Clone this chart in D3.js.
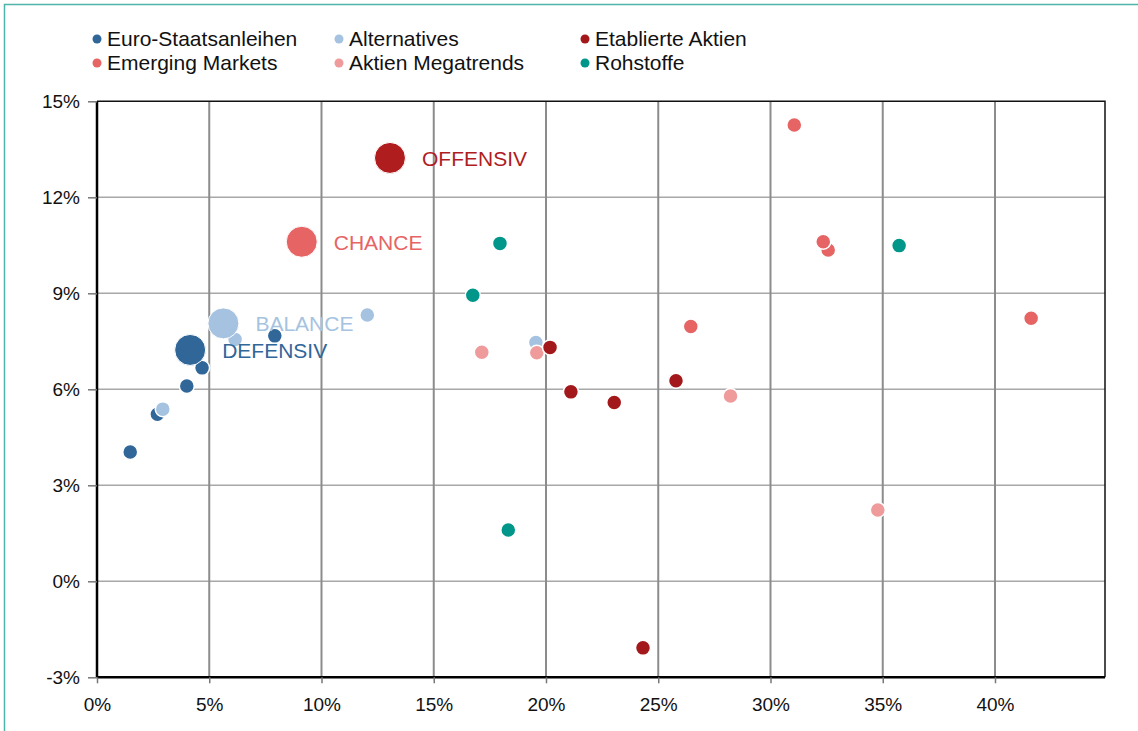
<!DOCTYPE html>
<html>
<head>
<meta charset="utf-8">
<script src="https://cdn.jsdelivr.net/npm/d3@7"></script>
<style>
  html, body { margin: 0; padding: 0; background: #fff; }
  svg { display: block; font-family: "Liberation Sans", Arial, sans-serif; }
</style>
</head>
<body>
<svg id="chart" width="1138" height="731"></svg>
<script>
const width = 1138;
const height = 731;

// series (legend order)
const seriesNames = ["Euro-Staatsanleihen", "Alternatives", "Etablierte Aktien",
                     "Emerging Markets", "Aktien Megatrends", "Rohstoffe"];
const seriesColors = ["#316699", "#a5c3e1", "#a3191b", "#e66464", "#f09b9b", "#00968a"];

// risk (x) / return (y) in percent
const euroRisk   = [1.48, 2.69, 4.00, 4.68, 7.92];
const euroReturn = [4.04, 5.22, 6.10, 6.67, 7.67];
const altRisk    = [2.93, 6.15, 12.04, 19.55];
const altReturn  = [5.38, 7.56, 8.32, 7.46];
const etabRisk   = [20.18, 21.11, 23.04, 25.79, 24.32];
const etabReturn = [7.31, 5.92, 5.59, 6.27, -2.08];
const emRisk     = [31.06, 32.57, 32.35, 26.45, 41.61];
const emReturn   = [14.26, 10.35, 10.61, 7.96, 8.22];
const megaRisk   = [17.14, 19.59, 28.22, 34.78];
const megaReturn = [7.16, 7.14, 5.79, 2.23];
const rohRisk    = [17.95, 16.74, 18.32, 35.73];
const rohReturn  = [10.56, 8.94, 1.60, 10.49];

// portfolios (big bubbles)
const portNames  = ["DEFENSIV", "BALANCE", "CHANCE", "OFFENSIV"];
const portRisk   = [4.15, 5.63, 9.12, 13.05];
const portReturn = [7.23, 8.06, 10.61, 13.23];
const portColors = ["#316699", "#a5c3e1", "#e66464", "#b01d1f"];

const xTicks = [0, 5, 10, 15, 20, 25, 30, 35, 40];
const yTicks = [-3, 0, 3, 6, 9, 12, 15];

const seriesData = [
  [euroRisk, euroReturn], [altRisk, altReturn], [etabRisk, etabReturn],
  [emRisk, emReturn], [megaRisk, megaReturn], [rohRisk, rohReturn]
];
// drawing order so the overlaps look like the original
const drawOrder = [0, 1, 4, 3, 2, 5];

const svg = d3.select("#chart");

const x = d3.scaleLinear().domain([0, 44.9]).range([97, 1105]);
const y = d3.scaleLinear().domain([-3, 15]).range([677.3, 101.3]);

// outer frame (teal, top + left)
svg.append("path")
    .attr("d", "M4.5,731 V4.5 H1138")
    .attr("fill", "none")
    .attr("stroke", "#4fb5aa")
    .attr("stroke-width", 1.5);

// grid
svg.append("g")
  .selectAll("line")
  .data(yTicks.slice(1, -1))
  .join("line")
    .attr("x1", x(0)).attr("x2", x(44.9))
    .attr("y1", d => y(d)).attr("y2", d => y(d))
    .attr("stroke", "#a8a8a8")
    .attr("stroke-width", 1.5);

svg.append("g")
  .selectAll("line")
  .data(xTicks.slice(1))
  .join("line")
    .attr("x1", d => x(d)).attr("x2", d => x(d))
    .attr("y1", y(15)).attr("y2", y(-3))
    .attr("stroke", "#8c8c8c")
    .attr("stroke-width", 2);

// frame top/right
svg.append("path")
    .attr("d", `M${x(0)},${y(15)} H${x(44.9)} V${y(-3)}`)
    .attr("fill", "none")
    .attr("stroke", "#111")
    .attr("stroke-width", 1.5);

// axes
const yAxis = svg.append("g")
    .attr("transform", `translate(${x(0)},0)`)
    .call(d3.axisLeft(y).tickValues(yTicks).tickFormat(d => d + "%").tickSize(9).tickPadding(8));
const xAxis = svg.append("g")
    .attr("transform", `translate(0,${y(-3)})`)
    .call(d3.axisBottom(x).tickValues(xTicks).tickFormat(d => d + "%").tickSize(6).tickPadding(14));

[yAxis, xAxis].forEach(g => {
  g.select(".domain").attr("stroke", "#000").attr("stroke-width", 2.5);
  g.selectAll(".tick line").attr("stroke", "#777").attr("stroke-width", 1.5);
  g.selectAll(".tick text")
    .attr("fill", "#111")
    .style("font-size", "19px")
    .style("font-family", "'Liberation Sans', Arial, sans-serif");
});
yAxis.select(".domain").attr("d", `M0,${y(15)}V${y(-3)}`);
xAxis.select(".domain").attr("d", `M${x(0)},0H${x(44.9)}`);

// points
const pts = svg.append("g");
drawOrder.forEach(i => {
  const [xs, ys] = seriesData[i];
  pts.append("g")
    .selectAll("circle")
    .data(d3.zip(xs, ys))
    .join("circle")
      .attr("cx", d => x(d[0]))
      .attr("cy", d => y(d[1]))
      .attr("r", 7.5)
      .attr("fill", seriesColors[i])
      .attr("stroke", "#fff")
      .attr("stroke-width", 1.5);
});

// portfolios
const ports = d3.range(portNames.length);
svg.append("g")
  .selectAll("circle")
  .data(ports)
  .join("circle")
    .attr("cx", i => x(portRisk[i]))
    .attr("cy", i => y(portReturn[i]))
    .attr("r", 15.5)
    .attr("fill", i => portColors[i])
    .attr("stroke", "#fff")
    .attr("stroke-width", 1);

svg.append("g")
  .selectAll("text")
  .data(ports)
  .join("text")
    .attr("x", i => x(portRisk[i]) + 32)
    .attr("y", i => y(portReturn[i]) + 8)
    .attr("fill", i => portColors[i])
    .style("font-size", "21px")
    .text(i => portNames[i]);

// legend
const legendX = [97, 339, 585];
const legendY = [39, 63];
const legend = svg.append("g")
  .selectAll("g")
  .data(seriesNames)
  .join("g")
    .attr("transform", (d, i) => `translate(${legendX[i % 3]},${legendY[Math.floor(i / 3)]})`);
legend.append("circle")
    .attr("r", 4.5)
    .attr("fill", (d, i) => seriesColors[i]);
legend.append("text")
    .attr("x", 10)
    .attr("dy", "0.35em")
    .attr("fill", "#111")
    .style("font-size", "21px")
    .text(d => d);
</script>
</body>
</html>
